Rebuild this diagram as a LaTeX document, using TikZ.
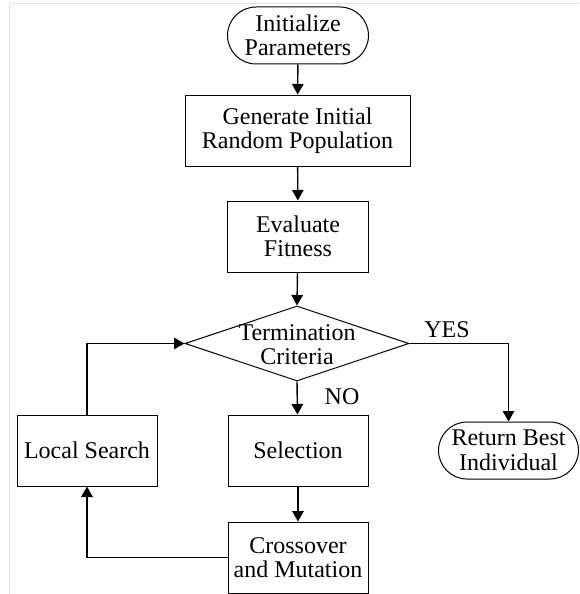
\documentclass[tikz,border=0pt]{standalone}
\usepackage{fontspec}
\setmainfont{Liberation Serif}
\usetikzlibrary{arrows.meta,shapes.geometric}
\begin{document}
\begin{tikzpicture}[x=1pt,y=1pt,
  every node/.style={font=\fontsize{24}{24.5}\selectfont, align=center, inner sep=0pt},
  procbox/.style={draw, line width=1pt, minimum width=#1, minimum height=71pt},
  procbox/.default=141pt,
  terminal/.style={draw, line width=1pt, rounded corners=28.5pt, minimum width=141pt, minimum height=57pt},
  decision/.style={draw, diamond, line width=1pt, minimum width=224pt, minimum height=75pt},
  flow/.style={line width=1.4pt, -{Triangle[length=10.5pt,width=11.5pt]}},
  link/.style={line width=1.4pt}
]
\useasboundingbox (0,0) rectangle (579,-594);
% light frame
\draw[color={rgb,255:red,226;green,226;blue,226}, line width=1.6pt] (9.3,-594) -- (9.3,-3.5) -- (579,-3.5);

\node[terminal] (init) at (298,-35.5) {Initialize\\Parameters};
\node[procbox=225pt] (gen) at (297.5,-130.5) {Generate Initial\\Random Population};
\node[procbox] (eval) at (298,-236.5) {Evaluate\\Fitness};
\node[decision] (term) at (297,-343.5) {};
\node (termtext) at (297,-344.5) {Termination\\Criteria};
\node[procbox=140pt] (sel) at (298,-450.5) {Selection};
\node[procbox=140pt] (local) at (87,-450.5) {Local Search};
\node[terminal, minimum width=140pt] (ret) at (508.5,-450.5) {Return Best\\Individual};
\node[procbox=140pt] (cross) at (298,-557.5) {Crossover\\and Mutation};

\node (yes) at (447,-330) {YES};
\node (no) at (342,-397) {NO};

\draw[flow] (init) -- (gen);
\draw[flow] (gen) -- (eval);
\draw[flow] (eval) -- (term.north);
\draw[flow] (term.south) -- (sel);
\draw[flow] (sel) -- (cross);
\draw[flow] (term.east) -| (ret.north);
\draw[flow] (cross.west) -| (local.south);
\draw[flow] (local.north) |- (term.west);
\end{tikzpicture}
\end{document}
